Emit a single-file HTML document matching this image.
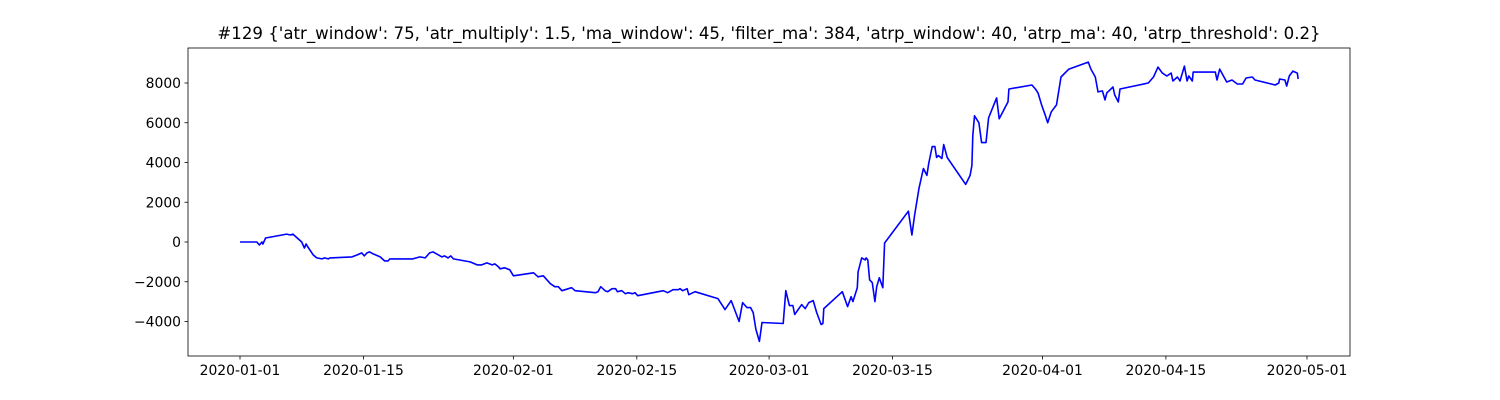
<!DOCTYPE html>
<html><head><meta charset="utf-8"><style>
html,body{margin:0;padding:0;background:#fff;width:1500px;height:400px;overflow:hidden}
svg{display:block;font-family:"DejaVu Sans","Liberation Sans",sans-serif}
</style></head><body>
<svg id="chart" width="1500" height="400" viewBox="0 0 1500 400" xmlns="http://www.w3.org/2000/svg">
<text x="769" y="39" font-size="16.6" text-anchor="middle" fill="#000">#129 {'atr_window': 75, 'atr_multiply': 1.5, 'ma_window': 45, 'filter_ma': 384, 'atrp_window': 40, 'atrp_ma': 40, 'atrp_threshold': 0.2}</text>
<g id="axes"></g>
</svg>
<script>
const days = [0,1.9,2.2,2.5,2.6,2.9,5.3,5.7,6.0,7.0,7.3,7.5,7.7,8.3,8.7,9.3,9.6,10.0,10.2,12.7,13.3,13.8,14.1,14.4,14.7,15.1,15.9,16.4,16.8,17.0,19.6,20.4,21.0,21.5,21.9,22.9,23.2,23.6,23.9,24.2,26.1,26.9,27.4,28.0,28.6,28.9,29.3,29.5,30.0,30.6,31.0,33.3,33.8,34.4,35.2,35.7,36.1,36.5,37.6,38.0,40.3,40.6,40.9,41.4,41.7,42.2,42.6,42.8,43.3,43.7,44.0,44.5,44.8,45.1,48.0,48.5,49.1,49.7,49.9,50.2,50.7,50.9,51.6,54.2,55.0,55.7,56.6,57.0,57.5,57.9,58.2,58.5,58.9,59.2,61.6,61.9,62.3,62.7,62.9,63.7,64.1,64.5,65.0,65.4,65.9,66.1,66.2,68.3,68.9,69.3,69.5,70.0,70.1,70.5,70.9,71.0,71.2,71.4,71.7,72.0,72.2,72.5,72.9,73.1,75.8,76.2,76.5,77.0,77.5,77.9,78.1,78.5,78.8,79.0,79.2,79.6,79.8,80.2,82.3,82.8,83.0,83.1,83.3,83.8,84.1,84.6,84.9,85.8,86.1,87.1,87.2,89.8,90.2,90.5,90.9,91.3,91.6,92.0,92.6,93.1,94.0,96.2,96.5,97.0,97.3,97.8,98.1,98.3,99.0,99.2,99.6,99.8,103.0,103.6,103.9,104.1,104.6,105.1,105.6,105.8,106.3,106.6,107.1,107.4,107.6,108.0,108.1,110.6,110.8,111.1,111.9,112.5,113.1,113.7,114.1,114.8,115.1,117.4,117.8,117.9,118.5,118.7,119.0,119.4,119.9,120.0];
const equity = [0,0,-150,0,-100,200,400,350,400,0,-300,-100,-250,-650,-800,-850,-800,-850,-800,-750,-650,-550,-700,-550,-500,-600,-750,-950,-950,-850,-850,-750,-800,-550,-500,-750,-700,-800,-700,-850,-1000,-1150,-1150,-1050,-1150,-1100,-1250,-1350,-1300,-1400,-1700,-1550,-1750,-1700,-2100,-2250,-2250,-2450,-2300,-2450,-2550,-2500,-2250,-2450,-2500,-2350,-2350,-2500,-2450,-2600,-2550,-2600,-2550,-2700,-2450,-2550,-2400,-2400,-2350,-2450,-2350,-2650,-2500,-2850,-3400,-2950,-4000,-3050,-3300,-3300,-3550,-4400,-5000,-4050,-4100,-2450,-3200,-3200,-3650,-3150,-3350,-3050,-2950,-3550,-4150,-4100,-3350,-2500,-3250,-2750,-3000,-2300,-1500,-800,-900,-800,-900,-1900,-2050,-3000,-2250,-1800,-2300,-50,1550,350,1350,2700,3700,3350,3950,4800,4800,4250,4350,4200,4900,4250,2900,3350,3850,5350,6350,6000,5000,5000,6250,7250,6200,7050,7700,7900,7700,7500,6900,6400,6000,6550,6900,8300,8700,9050,8700,8300,7550,7600,7150,7500,7800,7400,7050,7700,8000,8300,8600,8800,8500,8350,8500,8100,8300,8100,8850,8100,8350,8100,8550,8550,8150,8700,8050,8150,7950,7950,8250,8300,8150,7900,8000,8200,8150,7850,8350,8600,8500,8200];
const yTicks = [-4000,-2000,0,2000,4000,6000,8000];
const xTickDays = [0,14,31,45,60,74,91,105,121];
const xTickLabels = ["2020-01-01","2020-01-15","2020-02-01","2020-02-15","2020-03-01","2020-03-15","2020-04-01","2020-04-15","2020-05-01"];

const L=188,R=1350,T=48,B=356;
const xs = d => 240 + d*8.818;
const ys = v => 242 - v*0.019875;
const NS="http://www.w3.org/2000/svg";
const g=document.getElementById('axes');
function mk(tag,attrs){const e=document.createElementNS(NS,tag);for(const k in attrs)e.setAttribute(k,attrs[k]);g.appendChild(e);return e;}

yTicks.forEach(v=>{
  const y=ys(v);
  const t=mk('line',{x1:L-3.5,x2:L,y1:y,y2:y,stroke:'#000','stroke-width':0.8});
  
  
  const l=mk('text',{x:L-7,y:y+5,'font-size':13.9,'text-anchor':'end',fill:'#000'});
  l.textContent=String(v).replace('-','\u2212');
  
  
});
xTickDays.forEach((d,i)=>{
  const x=xs(d);
  const t=mk('line',{x1:x,x2:x,y1:B,y2:B+3.5,stroke:'#000','stroke-width':0.8});
  
  
  const l=mk('text',{x:x,y:B+19,'font-size':13.9,'text-anchor':'middle',fill:'#000'});
  l.textContent=xTickLabels[i];
  
  
});
const pts=days.map((d,i)=>xs(d).toFixed(1)+','+ys(equity[i]).toFixed(1)).join(' ');
const line=mk('polyline',{points:pts,fill:'none',stroke:'#0000ff','stroke-width':1.6,'stroke-linejoin':'round'});


const frame=mk('rect',{x:L,y:T,width:R-L,height:B-T,fill:'none',stroke:'#000','stroke-width':0.8});


</script>
</body></html>
